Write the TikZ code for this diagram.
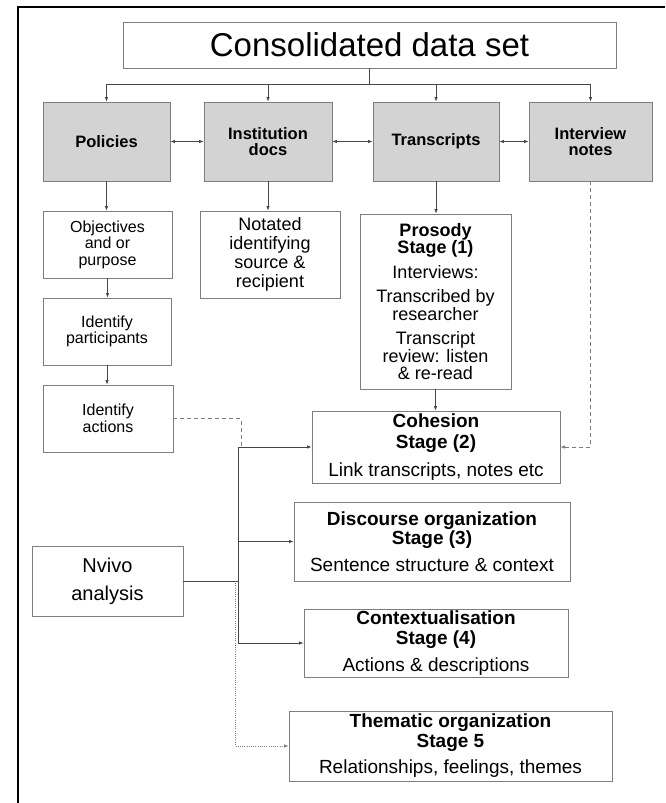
\documentclass[tikz,border=0pt]{standalone}
\usepackage{fontspec}
\setmainfont{Liberation Sans}
\usetikzlibrary{arrows.meta}
\definecolor{boxgray}{RGB}{211,211,211}
\definecolor{edgegray}{RGB}{125,125,125}
\definecolor{linegray}{RGB}{70,70,70}
\newcommand\fsz[2]{\fontsize{#1}{#2}\selectfont}

\begin{document}
\begin{tikzpicture}[x=1pt,y=-1pt,
  box/.style={draw=edgegray, line width=0.9pt, inner sep=0pt, align=center, text=black},
  shaded/.style={box, fill=boxgray, font={\fsz{16.5}{15.5}\bfseries}},
  leftbox/.style={box, font=\fsz{16}{16.5}},
  stagebox/.style={box, font=\fsz{19}{19.5}},
  tip/.tip={Latex[length=4.5pt,width=3.5pt]},
  link/.style={draw=linegray, line width=0.7pt},
  arr/.style={link, -tip},
  darr/.style={link, tip-tip},
  dashlink/.style={draw=edgegray, line width=0.7pt, dash pattern=on 4pt off 3pt},
  dotlink/.style={draw=edgegray, line width=0.6pt, dash pattern=on 1pt off 1.2pt},
]
\useasboundingbox (0,0) rectangle (665,803);
% page frame: left and top rules
\draw[line width=1.4pt] (18,803) -- (18,7) -- (665,7);

% title box
\node[box, minimum width=493pt, minimum height=46pt, font=\fsz{33}{35}] (cons) at (369.5,45) {Consolidated data set};

% source material boxes
\node[shaded, minimum width=127pt, minimum height=79pt] (pol) at (106.5,141.5) {Policies};
\node[shaded, minimum width=128pt, minimum height=79pt] (inst) at (268,141.5) {Institution\\docs};
\node[shaded, minimum width=126pt, minimum height=79pt] (trans) at (436,141.5) {Transcripts};
\node[shaded, minimum width=123pt, minimum height=79pt] (inter) at (590.5,141.5) {Interview\\notes};

% policy analysis column
\node[leftbox, minimum width=129pt, minimum height=67pt] (obj) at (107.5,244.5) {Objectives\\and or\\purpose};
\node[leftbox, minimum width=128pt, minimum height=67pt] (part) at (107,331.5) {Identify\\participants};
\node[leftbox, minimum width=130pt, minimum height=67pt] (act) at (108,418.5) {Identify\\actions};

% institution documents
\node[box, minimum width=140pt, minimum height=87pt, font=\fsz{18}{19}] (nota) at (270,254.5) {Notated\\identifying\\source \&\\recipient};

% prosody stage
\node[box, minimum width=151pt, minimum height=175pt, font=\fsz{18}{17.5}] (pros) at (435.5,301.5)
  {\textbf{Prosody}\\\textbf{Stage (1)}\\[7pt]Interviews:\\[7pt]Transcribed by\\researcher\\[7pt]Transcript\\review: listen\\\& re-read};

% later stages
\node[stagebox, font=\fsz{19}{21}, minimum width=248pt, minimum height=72pt] (coh) at (436,447)
  {\textbf{Cohesion}\\\textbf{Stage (2)}\\[7pt]Link transcripts, notes etc};
\node[stagebox, minimum width=276pt, minimum height=79pt] (disc) at (432,541.5)
  {\textbf{Discourse organization}\\\textbf{Stage (3)}\\[7.5pt]Sentence structure \& context};
\node[stagebox, minimum width=264pt, minimum height=68pt] (ctx) at (436,643)
  {\textbf{Contextualisation}\\\textbf{Stage (4)}\\[7.5pt]Actions \& descriptions};
\node[stagebox, minimum width=323pt, minimum height=70pt] (them) at (450.5,746)
  {\textbf{Thematic organization}\\\textbf{Stage 5}\\[7pt]Relationships, feelings, themes};

% software
\node[box, minimum width=151pt, minimum height=70pt, font=\fsz{20}{28}] (nvivo) at (107.5,581) {Nvivo\\analysis};

% distribution from the title box
\coordinate (hub) at (369.5,84);
\draw[link] (cons.south) -- (hub);
\draw[arr] (hub) -| (pol.north);
\draw[arr] (hub) -| (inst.north);
\draw[arr] (hub) -| (trans.north);
\draw[arr] (hub) -| (inter.north);

% links between the sources
\draw[darr] (pol.east) -- (inst.west);
\draw[darr] (inst.east) -- (trans.west);
\draw[darr] (trans.east) -- (inter.west);

% downward flow
\draw[arr] (pol.south) -- (pol.south |- obj.north);
\draw[arr] (obj.south) -- (obj.south |- part.north);
\draw[arr] (part.south) -- (part.south |- act.north);
\draw[arr] (inst.south) -- (inst.south |- nota.north);
\draw[arr] (trans.south) -- (trans.south |- pros.north);
\draw[arr] (pros.south) -- (pros.south |- coh.north);

% dashed feeds into cohesion
\draw[dashlink, -tip] (inter.south) |- (coh.east);
\coordinate (actbend) at (241,446);
\draw[dashlink] (act.east) -| (actbend);

% Nvivo trunk
\coordinate (trunk) at (238,581);
\draw[link] (nvivo.east) -- (trunk);
\draw[arr] (trunk) |- (coh.west);
\draw[arr] (trunk) |- (disc.west);
\draw[arr] (trunk) |- (ctx.west);
\coordinate (dtrunk) at (235.5,581);
\draw[dotlink, -tip] (dtrunk) |- (them.west);
\end{tikzpicture}
\end{document}
